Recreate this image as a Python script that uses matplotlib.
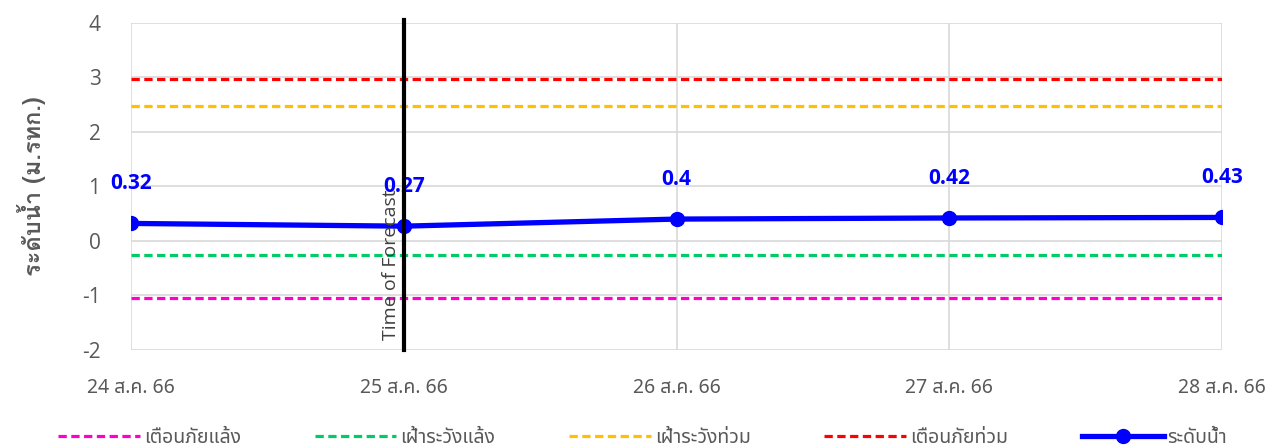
import matplotlib
matplotlib.use("Agg")
import matplotlib.pyplot as plt

dates = ['24 ส.ค. 66', '25 ส.ค. 66', '26 ส.ค. 66', '27 ส.ค. 66', '28 ส.ค. 66']
water_level = [0.32, 0.27, 0.4, 0.42, 0.43]
drought_warning = -1.05
drought_watch = -0.26
flood_watch = 2.47
flood_warning = 2.97
forecast_idx = 1

thai = ['Noto Sans Thai', 'DejaVu Sans']
plt.rcParams['font.family'] = thai
plt.rcParams['axes.unicode_minus'] = False

x = list(range(len(dates)))

fig = plt.figure(figsize=(12.85, 4.48), dpi=100)
ax = fig.add_axes([0.102, 0.219, 0.849, 0.730])

dash = (0, (2.6, 1.4))
ax.plot(x, [drought_warning] * len(x), color='#ff00cc', ls=dash, lw=2.3, label='เตือนภัยแล้ง')
ax.plot(x, [drought_watch] * len(x), color='#00cc66', ls=dash, lw=2.3, label='เฝ้าระวังแล้ง')
ax.plot(x, [flood_watch] * len(x), color='#ffc000', ls=dash, lw=2.3, label='เฝ้าระวังท่วม')
ax.plot(x, [flood_warning] * len(x), color='#ff0000', ls=dash, lw=2.3, label='เตือนภัยท่วม')
ax.plot(x, water_level, color='#0000ff', lw=3.8, marker='o', ms=10, label='ระดับน้ำ', zorder=5)

for xi, v in zip(x, water_level):
    ax.annotate(f'{v:g}', (xi, v), xytext=(0, 21), textcoords='offset points',
                ha='center', va='bottom', color='#0000ff', fontsize=15, fontweight='bold',
                family=['Open Sans', 'DejaVu Sans'])

ax.axvline(forecast_idx, color='black', lw=3, ymin=0, ymax=1.01, clip_on=False, zorder=6)
ax.text(forecast_idx - 0.015, -1.82, 'Time of Forecast', rotation=90, ha='right', va='bottom',
        fontsize=14, color='#404040', family=['Open Sans', 'DejaVu Sans'], zorder=7)

ax.set_xlim(0, len(x) - 1)
ax.set_ylim(-2, 4)
ax.set_xticks(x)
ax.set_xticklabels(dates)
ax.set_yticks(range(-2, 5))
ax.grid(True, color='#d9d9d9', lw=1.2)
ax.set_axisbelow(True)
for s in ax.spines.values():
    s.set_visible(False)
ax.tick_params(length=0, labelsize=14, labelcolor='#595959')
ax.tick_params(axis='x', pad=20)
ax.tick_params(axis='y', pad=22)
for lab in ax.get_yticklabels():
    lab.set_family(['Open Sans', 'DejaVu Sans'])
    lab.set_fontsize(15)
ax.set_ylabel('ระดับน้ำ (ม.รทก.)', fontsize=17, fontweight='bold', color='#595959', labelpad=26,
              family=['Loma', 'Noto Sans Thai', 'DejaVu Sans'])

ax.legend(loc='center', bbox_to_anchor=(0.469, -0.27), ncol=5, frameon=False,
          fontsize=14, labelcolor='#595959', handlelength=4.2, columnspacing=3.8,
          handletextpad=0.2, borderpad=0)

fig.savefig('out.png', dpi=100)
